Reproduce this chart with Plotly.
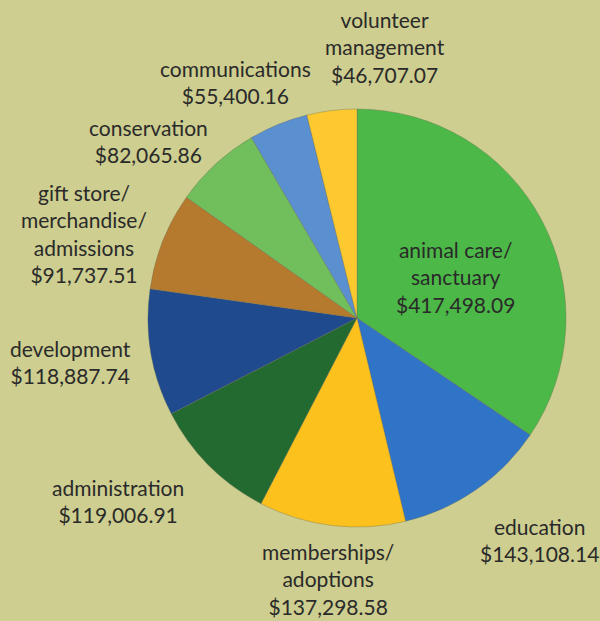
import plotly.graph_objects as go

categories = ["animal care/<br>sanctuary", "education", "memberships/<br>adoptions",
              "administration", "development", "gift store/<br>merchandise/<br>admissions",
              "conservation", "communications", "volunteer<br>management"]
values = [417498.09, 143108.14, 137298.58, 119006.91, 118887.74, 91737.51,
          82065.86, 55400.16, 46707.07]
colors = ["#4CB847", "#2F74C6", "#FCC11C", "#236A31", "#1F4B8E", "#B57A2D",
          "#71BE5D", "#5A90D0", "#FDC92F"]
# label centres in pixels (x from left, y from top)
label_pos = [(455, 277), (539, 540), (328, 579), (118, 501), (70, 362),
             (84, 233), (148, 141), (235, 82), (385, 47)]

W, H = 600, 621
fig = go.Figure()
fig.add_trace(go.Pie(
    labels=[c.replace("<br>", " ") for c in categories], values=values,
    sort=False, direction="clockwise", rotation=0,
    marker=dict(colors=colors, line=dict(color="rgba(110,110,90,0.6)", width=0.6)),
    textinfo="none", hoverinfo="label+value",
    domain=dict(x=[148 / W, 566 / W], y=[94 / H, 512 / H]),
    showlegend=False,
))
for c, v, (px, py) in zip(categories, values, label_pos):
    fig.add_annotation(
        x=px / W, y=1 - py / H, xref="paper", yref="paper",
        text=f"{c}<br>${v:,.2f}", showarrow=False, align="center",
        font=dict(family="Lato", size=21, color="#2A2A2A"),
        xanchor="center", yanchor="middle",
    )
fig.update_layout(
    width=W, height=H, margin=dict(l=0, r=0, t=0, b=0),
    paper_bgcolor="#CDCE8F", plot_bgcolor="#CDCE8F",
)
fig.write_html("out.html", config={"displayModeBar": False},
               post_script="document.body.style.margin='0';document.body.style.overflow='hidden';")
